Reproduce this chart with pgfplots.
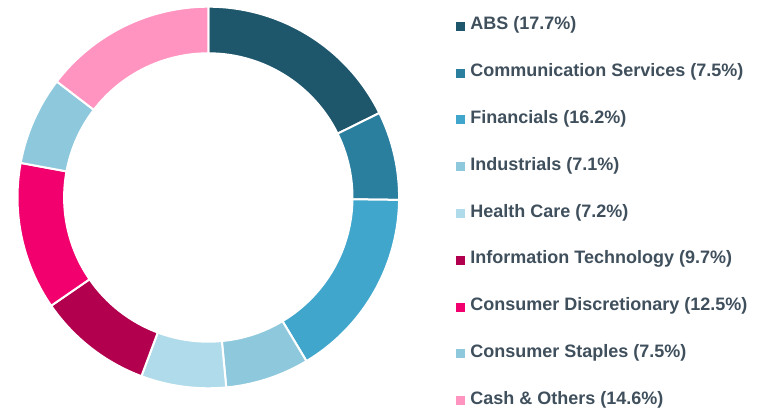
\documentclass[border=0pt]{standalone}
\usepackage{pgfplots}
\usepackage{pgfplotstable}
\pgfplotsset{compat=1.18}
\usepackage{fontspec}
\setmainfont{Liberation Sans}
\definecolor{c0}{HTML}{1E566C}
\definecolor{c1}{HTML}{2A7E9E}
\definecolor{c2}{HTML}{40A6CC}
\definecolor{c3}{HTML}{8EC8DD}
\definecolor{c4}{HTML}{B0DBEA}
\definecolor{c5}{HTML}{B3004E}
\definecolor{c6}{HTML}{F2006D}
\definecolor{c7}{HTML}{8EC8DD}
\definecolor{c8}{HTML}{FF94C0}
\definecolor{txt}{HTML}{3F4F5C}
\pgfplotstableread[col sep=comma]{
name,value
ABS,17.7
Communication Services,7.5
Financials,16.2
Industrials,7.1
Health Care,7.2
Information Technology,9.7
Consumer Discretionary,12.5
Consumer Staples,7.5
Cash & Others,14.6
}\slices
\newcommand{\legsq}[1]{\addlegendimage{legend image code/.code={\fill[#1] (0pt,-4pt) rectangle (8pt,4pt);}}}
\begin{document}
\begin{tikzpicture}
\begin{axis}[
  width=769pt, height=407pt, scale only axis,
  xmin=0, xmax=769, ymin=0, ymax=407,
  hide axis, clip=false,
  legend style={at={(axis cs:456,389)}, anchor=north west, draw=none, fill=none,
    inner sep=0pt, outer sep=0pt, column sep=6pt, row sep=30.8pt,
    font=\fontsize{18}{20}\selectfont\bfseries, text=txt,
    nodes={inner sep=0pt, text height=12pt, text depth=4pt}},
  legend cell align=left,
]
\path (axis cs:0,0) rectangle (axis cs:769,407);
\pgfplotsextra{%
  \gdef\cum{0}%
  \pgfplotstableforeachcolumnelement{value}\of\slices\as\v{%
    \pgfmathsetmacro\aS{90-3.6*\cum}%
    \pgfmathsetmacro\aE{90-3.6*(\cum+\v)}%
    \begin{scope}[shift={(axis cs:208.3,209.5)}]
      \fill[c\pgfplotstablerow, draw=white, line width=2pt]
        (\aS:190.8pt) arc[start angle=\aS, end angle=\aE, radius=190.8pt]
        -- (\aE:144.2pt) arc[start angle=\aE, end angle=\aS, radius=144.2pt] -- cycle;
    \end{scope}
    \pgfmathsetmacro\tmp{\cum+\v}%
    \xdef\cum{\tmp}%
  }%
}
\legsq{c0}\addlegendentry{ABS (17.7\%)}
\legsq{c1}\addlegendentry{Communication Services (7.5\%)}
\legsq{c2}\addlegendentry{Financials (16.2\%)}
\legsq{c3}\addlegendentry{Industrials (7.1\%)}
\legsq{c4}\addlegendentry{Health Care (7.2\%)}
\legsq{c5}\addlegendentry{Information Technology (9.7\%)}
\legsq{c6}\addlegendentry{Consumer Discretionary (12.5\%)}
\legsq{c7}\addlegendentry{Consumer Staples (7.5\%)}
\legsq{c8}\addlegendentry{Cash \& Others (14.6\%)}
\end{axis}
\end{tikzpicture}
\end{document}
